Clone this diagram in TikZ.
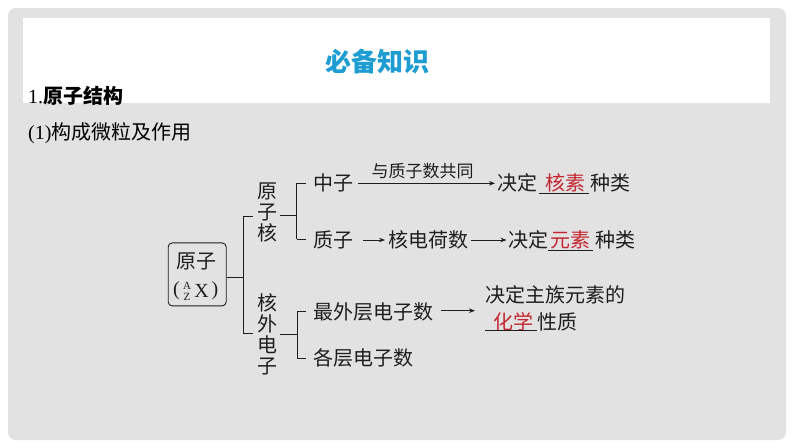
\documentclass[tikz,border=0pt]{standalone}
\usepackage{fontspec}
\setmainfont{Liberation Serif}
\newfontfamily\cjk{Noto Sans CJK SC}
\usetikzlibrary{arrows.meta}
\definecolor{greybg}{RGB}{226,226,226}
\definecolor{titleblue}{RGB}{29,157,210}
\definecolor{redc}{RGB}{196,38,48}
\definecolor{inkc}{RGB}{30,30,30}
\begin{document}
\begin{tikzpicture}[x=1pt,y=-1pt,
  txt/.style={inner sep=0pt, anchor=west, text=inkc, font=\cjk\fontsize{20}{24}\selectfont},
  vtxt/.style={inner sep=0pt, align=center, text=inkc, font=\cjk\fontsize{20}{21}\selectfont},
  lbl/.style={inner sep=0pt, text=inkc, font=\cjk\fontsize{17}{20}\selectfont},
  redtxt/.style={txt, text=redc},
  serif/.style={inner sep=0pt, text=inkc, font=\fontsize{20}{24}\selectfont},
  small/.style={inner sep=0pt, align=center, text=inkc, font=\fontsize{11}{11}\selectfont},
  ln/.style={line width=0.9pt, draw=inkc},
  arr/.style={ln, -{Stealth[length=6pt,width=4.5pt]}},
]
\useasboundingbox (0,0) rectangle (794,447);
\fill[white] (0,0) rectangle (794,447);
\fill[greybg, rounded corners=8pt] (8,8) rectangle (786,440);
\fill[white] (23,18) rectangle (770,103);

% headings
\node[inner sep=0pt, text=titleblue, font=\cjk\bfseries\fontsize{26}{30}\selectfont] (title) at (377,62) {必备知识};
\node[inner sep=0pt, anchor=west, font=\fontsize{20}{24}\selectfont] (sec) at (28,96) {1.{\cjk\bfseries 原子结构}};
\node[inner sep=0pt, anchor=west, font=\fontsize{20}{24}\selectfont] (sub) at (28,133) {(1){\cjk 构成微粒及作用}};

% atom box
\node[ln, draw, rounded corners=4pt, minimum width=58pt, minimum height=63pt, inner sep=0pt] (atom) at (197.2,274.4) {};
\node[txt, anchor=center] (atomA) at (196,261) {原子};
\node[serif] (lpar) at (176.5,291) {(};
\node[small] (massZ) at (187,291) {A\\Z};
\node[serif] (symX) at (201.5,291) {X};
\node[serif] (rpar) at (215,291) {)};

% first split
\coordinate (j1) at (243.3,277.7);
\coordinate (j1t) at (243.3,216.7);
\coordinate (j1b) at (243.3,333.3);
\node[vtxt] (nuc) at (267,212.7) {原\\子\\核};
\node[vtxt] (ele) at (267,334.2) {核\\外\\电\\子};
\draw[ln] (atom.east |- j1) -- (j1);
\draw[ln] (j1t) -- (j1b);
\draw[ln] (j1t) -- ([xshift=-4pt]nuc.west |- j1t);
\draw[ln] (j1b) -- ([xshift=-4pt]ele.west |- j1b);

% nucleus branch
\coordinate (j2) at (296.7,215);
\coordinate (j2t) at (296.7,183.3);
\coordinate (j2b) at (296.7,239.3);
\node[txt] (neu) at (313,183.3) {中子};
\node[txt] (pro) at (313,240) {质子};
\draw[ln] ([xshift=3pt]nuc.east |- j2) -- (j2);
\draw[ln] (j2t) -- (j2b);
\draw[ln] (j2t) -- ([xshift=-7pt]neu.west |- j2t);
\draw[ln] (j2b) -- ([xshift=-7pt]pro.west |- j2b);

% row 1
\node[lbl] (lab) at (422.5,170.7) {与质子数共同};
\node[txt] (det1) at (497,183.3) {决定};
\node[redtxt] (hesu) at (545,183.3) {核素};
\node[txt] (kind1) at (590,183.3) {种类};
\draw[arr] ([xshift=5pt]neu.east) -- ([xshift=-2pt]det1.west);
\coordinate (u1a) at (539,193.3);
\coordinate (u1b) at (589,193.3);
\draw[ln] (u1a) -- (u1b);

% row 2
\node[txt] (chg) at (388,240) {核电荷数};
\node[txt] (det2) at (508,240) {决定};
\node[redtxt] (yuansu) at (550,240) {元素};
\node[txt] (kind2) at (595,240) {种类};
\draw[arr] ([xshift=10pt]pro.east) -- ([xshift=-3pt]chg.west);
\draw[arr] ([xshift=3pt]chg.east) -- ([xshift=-1.5pt]det2.west);
\coordinate (u2a) at (548,250);
\coordinate (u2b) at (593,250);
\draw[ln] (u2a) -- (u2b);

% electron branch
\coordinate (j3) at (297,334);
\coordinate (j3t) at (297,311.7);
\coordinate (j3b) at (297,358.3);
\node[txt] (outer) at (313,311.7) {最外层电子数};
\node[txt] (layers) at (313,358.3) {各层电子数};
\draw[ln] ([xshift=3pt]ele.east |- j3) -- (j3);
\draw[ln] (j3t) -- (j3b);
\draw[ln] (j3t) -- ([xshift=-7pt]outer.west |- j3t);
\draw[ln] (j3b) -- ([xshift=-7pt]layers.west |- j3b);

\node[txt] (chem1) at (485,295) {决定主族元素的};
\node[redtxt] (huaxue) at (493,321.7) {化学};
\node[txt] (xingzhi) at (537,321.7) {性质};
\coordinate (arrend) at (475,310.7);
\draw[arr] ([xshift=8pt]outer.east |- arrend) -- (arrend);
\coordinate (u3a) at (485,330);
\coordinate (u3b) at (536.7,330);
\draw[ln] (u3a) -- (u3b);
\end{tikzpicture}
\end{document}
